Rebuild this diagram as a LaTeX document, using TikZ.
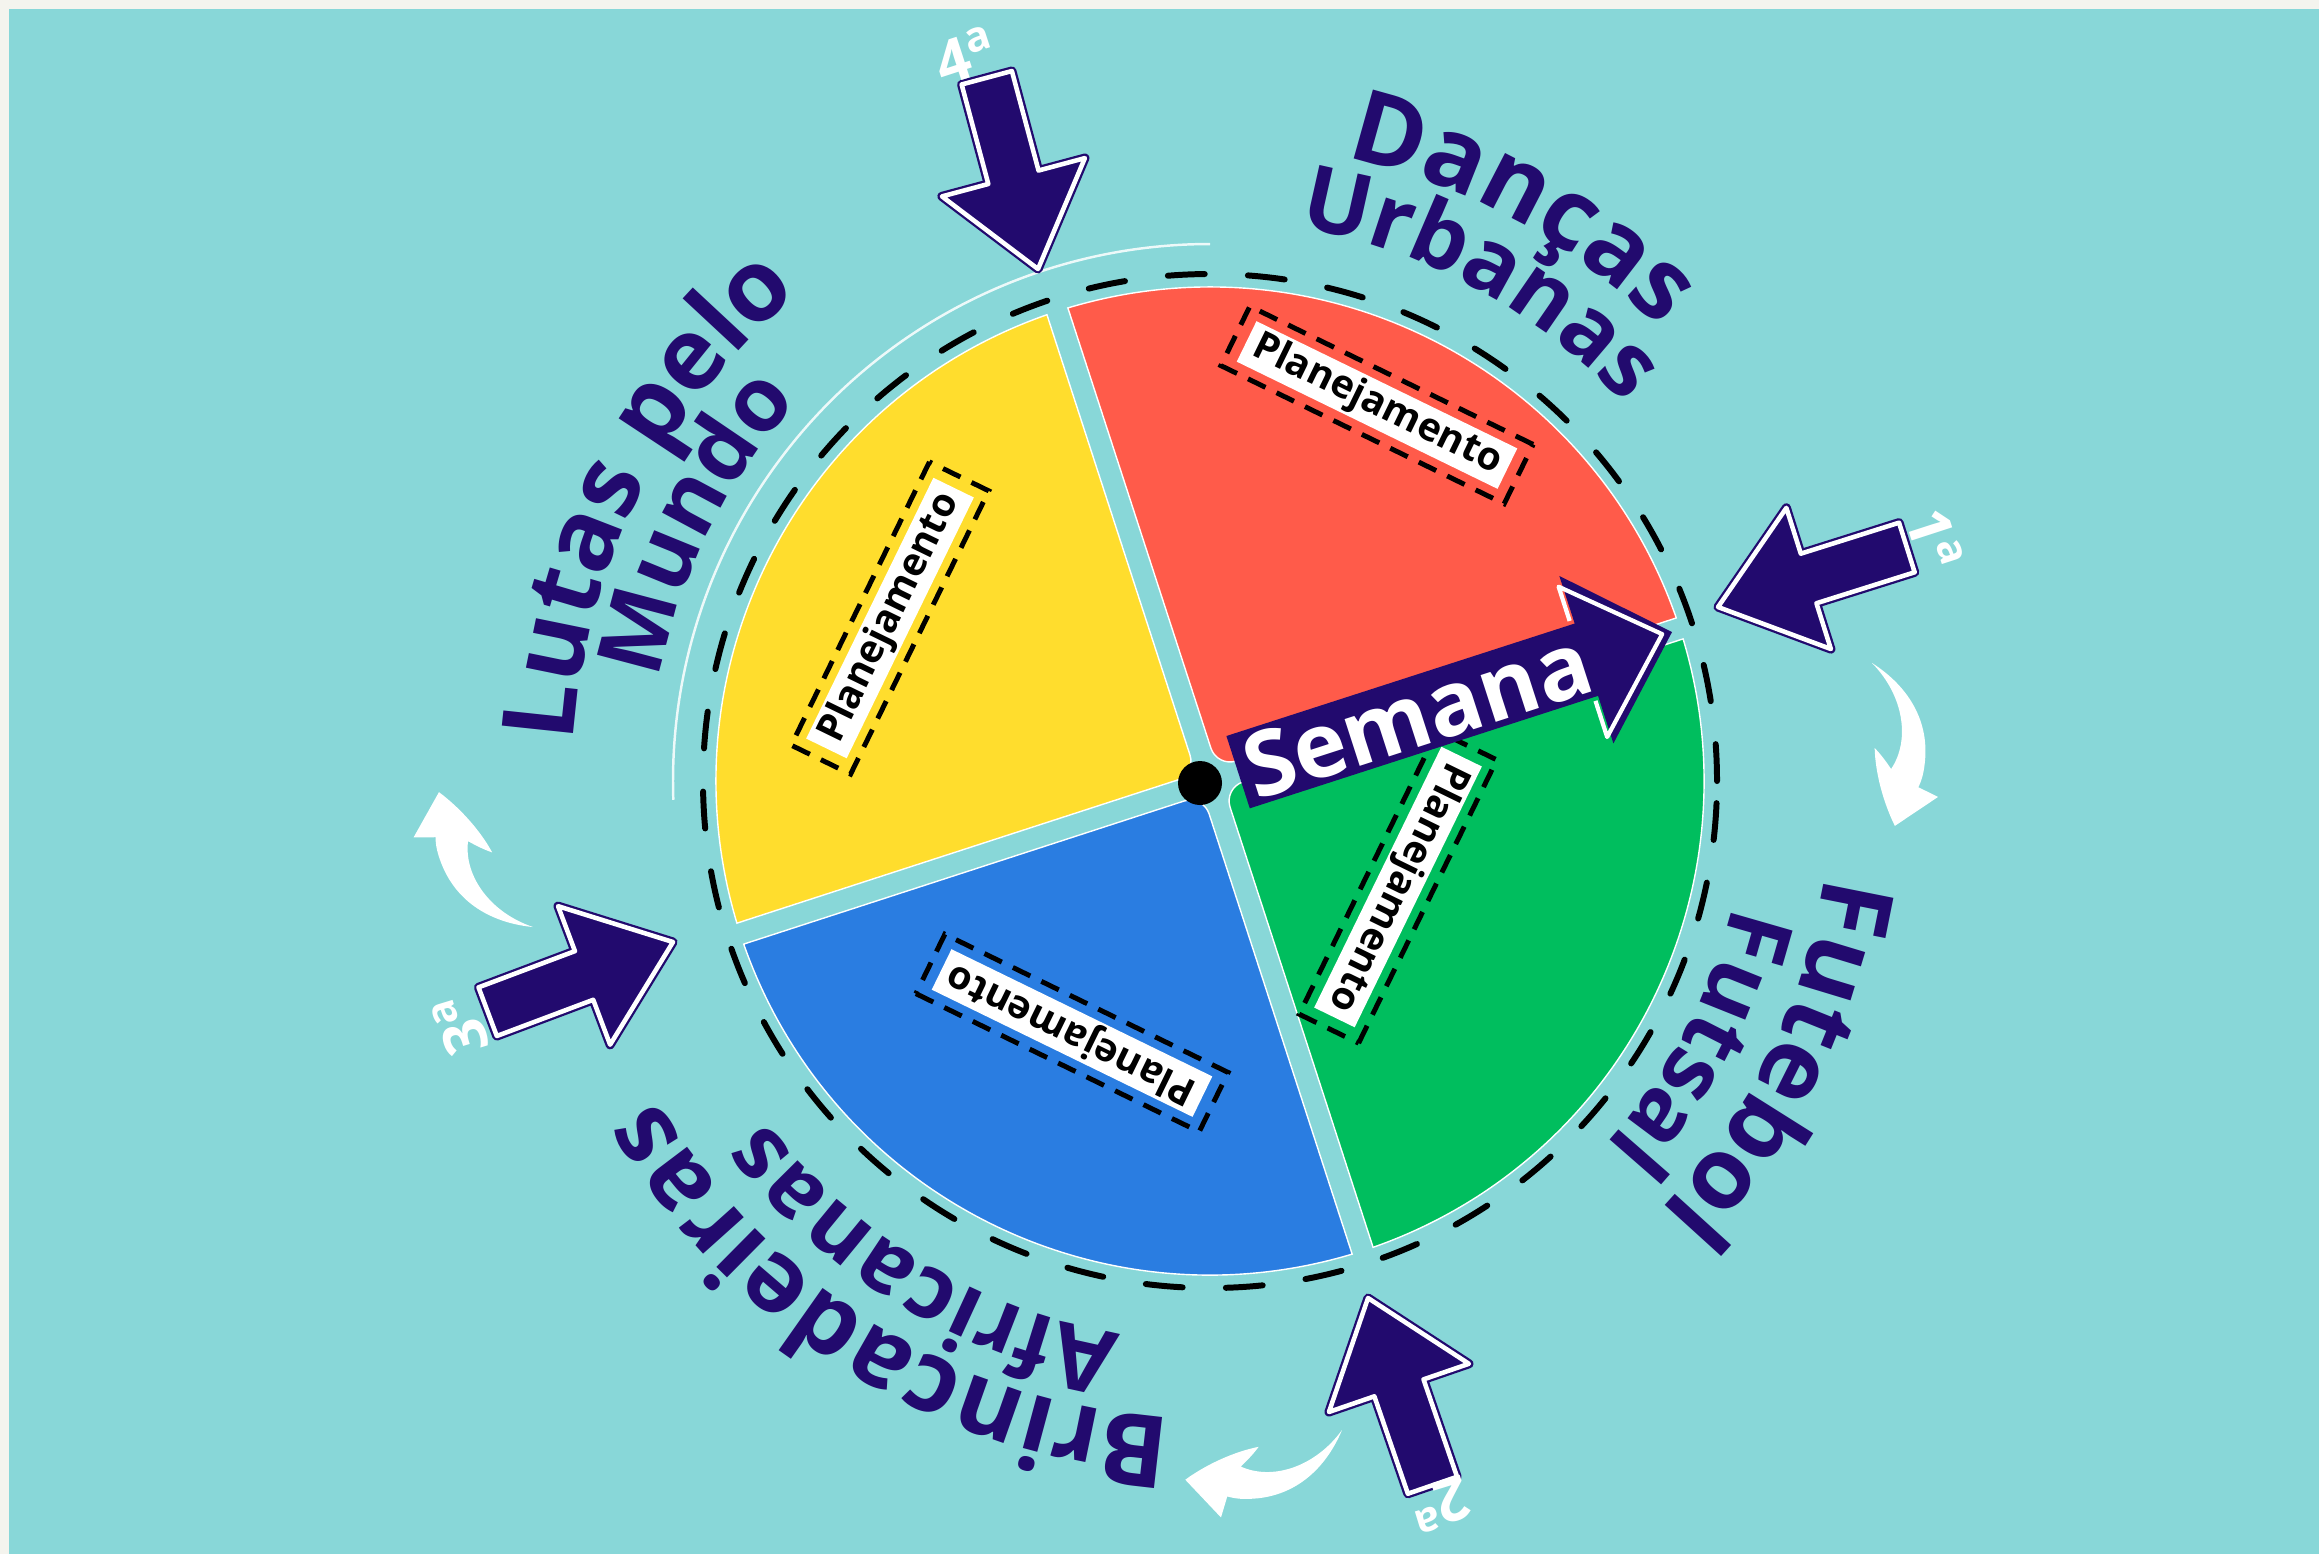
\documentclass[tikz,border=0pt]{standalone}
\usepackage{fontspec}
\setmainfont{Open Sans}
\usetikzlibrary{calc,decorations.text}
\definecolor{bgteal}{HTML}{88D7D8}
\definecolor{offwhite}{HTML}{F4F4EE}
\definecolor{sred}{HTML}{FF5B4A}
\definecolor{syellow}{HTML}{FFDD2D}
\definecolor{sblue}{HTML}{2A7DE1}
\definecolor{sgreen}{HTML}{00BE5E}
\definecolor{ink}{HTML}{220A6E}
\newcommand\outerfont{\fontsize{28.5}{30}\selectfont\bfseries}
\newcommand\innerfont{\fontsize{25.6}{27}\selectfont\bfseries}
\newcommand\semfont{\fontsize{25.6}{27}\selectfont\bfseries}
\newcommand\planfont{\fontsize{11.1}{12}\selectfont\bfseries}
\newcommand\ordfont{\fontsize{17}{18}\selectfont\bfseries}
% sector: #1 start angle, #2 colour
\newcommand\pieslice[2]{%
  \fill[#2, draw=white, line width=0.4pt]
    ($(C)+(#1+45:15.556)+(#1:20)$) -- ($(C)+(#1+1.276:494)$)
    arc[start angle=#1+1.276, end angle=#1+88.724, radius=494]
    -- ($(C)+(#1+45:15.556)+(#1+90:20)$)
    .. controls ($(C)+(#1+45:15.556)+(#1+90:9)$) and ($(C)+(#1+45:15.556)+(#1:9)$) ..
    ($(C)+(#1+45:15.556)+(#1:20)$) -- cycle;}
% curved text: #1 mid angle, #2 baseline radius, #3 font, #4 text
\newcommand\arctext[4]{%
  \path[decorate, decoration={text along path, text align=center, text color=ink, text={|#3|#4}}]
    ($(C)+(#1+45:#2)$) arc[start angle=#1+45, end angle=#1-45, radius=#2];}
\tikzset{
  planframe/.style={draw=black, line width=1.4pt, dash pattern=on 5.5pt off 3.5pt,
    minimum width=3.15cm, minimum height=0.66cm, inner sep=0pt},
  planbox/.style={fill=white, text=black, font=\planfont, minimum width=2.9cm,
    minimum height=0.45cm, inner sep=0pt},
  ordlabel/.style={text=white, font=\ordfont, inner sep=0pt},
  barrow/.pic={
    \path[fill=ink, draw=ink, line width=2.6pt, line join=round]
      (-198,26) -- (-95,26) -- (-95,74) -- (0,0) -- (-95,-74) -- (-95,-26) -- (-198,-26) -- cycle;
    \draw[white, line width=1.3pt, line join=round]
      (-198,26) -- (-95,26) -- (-95,74) -- (0,0) -- (-95,-74) -- (-95,-26) -- (-198,-26) -- cycle;
  },
  swoosh/.pic={
    \fill[white] (0,0) .. controls (30,-22) and (52,-55) .. (47,-97)
      .. controls (45,-112) and (42,-120) .. (38,-127) -- (57,-138) -- (12,-164)
      .. controls (2,-140) and (-4,-110) .. (-3,-85)
      .. controls (3,-92) and (8,-100) .. (12,-107)
      .. controls (33,-80) and (30,-35) .. (0,0) -- cycle;
  }
}
\begin{document}
\begin{tikzpicture}[x=0.01cm,y=0.01cm]
\useasboundingbox (0,0) rectangle (2319,-1553);
\fill[offwhite] (-10,10) rectangle (2330,-1565);
\fill[bgteal] (9,-9) rectangle (2330,-1565);
\coordinate (C) at (1210,-781);

% thin white arc on the upper left
\draw[white, line width=0.7pt, opacity=0.85] ($(C)+(90:537)$) arc[start angle=90, end angle=182, radius=537];

% sectors
\pieslice{18}{sred}
\pieslice{108}{syellow}
\pieslice{198}{sblue}
\pieslice{288}{sgreen}

% dashed ring
\draw[black, line width=1.7pt, line cap=round, dash pattern=on 10.5pt off 12.3pt] (C) circle[radius=507];

% Planejamento labels
\node[planframe, rotate=-26] (fr) at (1377,-405) {};
\node[planbox, rotate=-26] (pr) at (1377,-405) {Planejamento};
\node[planframe, rotate=64] (fy) at (890,-618) {};
\node[planbox, rotate=64] (py) at (890,-618) {Planejamento};
\node[planframe, rotate=154] (fb) at (1072,-1033) {};
\node[planbox, rotate=154] (pb) at (1072,-1033) {Planejamento};
\node[planframe, rotate=-116] (fg) at (1398,-887) {};
\node[planbox, rotate=-116] (pg) at (1398,-887) {Planejamento};

% Semana arrow
\begin{scope}[shift={(1672,-632)}, rotate=17.9]
  \fill[ink] (-456,38) -- (-90,38) -- (-90,88) -- (0,0) -- (-90,-88) -- (-90,-38) -- (-456,-38) -- cycle;
  \draw[white, line width=1.2pt, line join=round] (-94,42) -- (-94,78) -- (-10,1) -- (-94,-80) -- (-94,-42);
  \node[rotate=17.9, text=white, font=\semfont, inner sep=0pt] (sem) at (-268,0) {Semana};
\end{scope}

% centre dot
\fill[black] (1200,-783) circle[radius=22];

% block arrows
\pic[rotate=197.5] at (1718,-607) {barrow};
\pic[rotate=109] at (1368,-1298) {barrow};
\pic[rotate=20.6] at (673,-942) {barrow};
\pic[rotate=285] at (1038,-269) {barrow};

% ordinal labels
\node[ordlabel, rotate=-72] (o1) at (1935,-540) {1\textsuperscript{a}};
\node[ordlabel, rotate=-163] (o2) at (1440,-1505) {2\textsuperscript{a}};
\node[ordlabel, rotate=107] (o3) at (460,-1025) {3\textsuperscript{a}};
\node[ordlabel, rotate=18] (o4) at (966,-55) {4\textsuperscript{a}};

% white curved arrows
\pic[rotate=3.8] at (1872,-663) {swoosh};
\pic[rotate=283.4] at (1342,-1430) {swoosh};
\pic[rotate=210.7] at (533,-927) {swoosh};

% curved titles
\arctext{61.5}{638}{\outerfont}{Danças}
\arctext{61.6}{560}{\innerfont}{Urbanas}
\arctext{-26.2}{622}{\outerfont}{Futebol}
\arctext{-28.0}{537}{\innerfont}{Futsal}
\arctext{238.2}{638}{\outerfont}{Brincadeiras}
\arctext{239.1}{560}{\innerfont}{Africanas}
\arctext{153.3}{638}{\outerfont}{Lutas pelo}
\arctext{153.4}{560}{\innerfont}{Mundo}
\end{tikzpicture}
\end{document}
